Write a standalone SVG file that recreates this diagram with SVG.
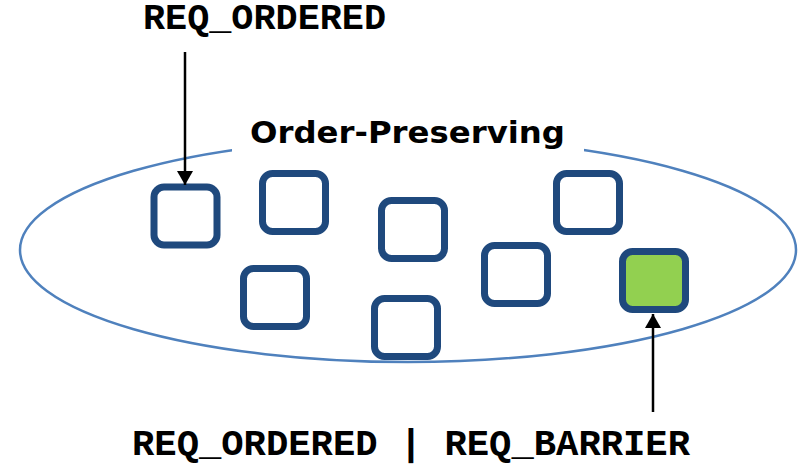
<svg xmlns="http://www.w3.org/2000/svg" width="798" height="468" viewBox="0 0 798 468">
  <defs>
    <marker id="arrow" viewBox="0 0 14 16" refX="14" refY="8" markerWidth="14" markerHeight="16" markerUnits="userSpaceOnUse" orient="auto">
      <path d="M0,0 L14,8 L0,16 Z" fill="#000"/>
    </marker>
    <style>
      .req { fill: #fff; stroke: #1f497d; stroke-width: 7; }
      .barrier { fill: #92d050; stroke: #1f497d; stroke-width: 7; }
      .flag { font-family: "Liberation Mono", "Courier New", monospace; font-weight: bold; font-size: 36px; fill: #000; }
      .title { font-family: "DejaVu Sans", "Noto Sans", sans-serif; font-weight: bold; font-size: 31px; fill: #000; }
      .link { stroke: #000; stroke-width: 2.5; fill: none; marker-end: url(#arrow); }
    </style>
  </defs>
  <rect width="798" height="468" fill="#fff"/>

  <!-- queue boundary -->
  <g id="queue">
    <ellipse cx="408" cy="250" rx="388" ry="112" fill="none" stroke="#4f81bd" stroke-width="2.5"/>
    <rect x="232" y="110" width="352" height="50" fill="#fff"/>
    <text class="title" x="250" y="143" textLength="315" lengthAdjust="spacingAndGlyphs">Order-Preserving</text>
  </g>

  <!-- requests -->
  <g id="req1"><rect class="req" x="154" y="187" width="63" height="58" rx="10"/></g>
  <g id="req2"><rect class="req" x="262.5" y="173.5" width="63" height="58" rx="10"/></g>
  <g id="req3"><rect class="req" x="381.5" y="200.5" width="63" height="58" rx="10"/></g>
  <g id="req4"><rect class="req" x="556.5" y="173.5" width="63" height="58" rx="10"/></g>
  <g id="req5"><rect class="req" x="243.5" y="268.5" width="63" height="58" rx="10"/></g>
  <g id="req6"><rect class="req" x="374.5" y="298.5" width="63" height="58" rx="10"/></g>
  <g id="req7"><rect class="req" x="484.5" y="245.5" width="63" height="58" rx="10"/></g>
  <g id="req8"><rect class="barrier" x="622.5" y="251.5" width="63" height="58" rx="10"/></g>

  <!-- flag labels -->
  <g id="label-ordered">
    <text class="flag" x="143" y="29" textLength="243" lengthAdjust="spacingAndGlyphs">REQ_ORDERED</text>
  </g>
  <g id="label-barrier">
    <text class="flag" x="132" y="455" textLength="558" lengthAdjust="spacingAndGlyphs">REQ_ORDERED | REQ_BARRIER</text>
  </g>

  <!-- connectors -->
  <g id="connectors">
    <line class="link" x1="185" y1="52" x2="185" y2="185"/>
    <line class="link" x1="653" y1="412" x2="653" y2="314"/>
  </g>
</svg>
